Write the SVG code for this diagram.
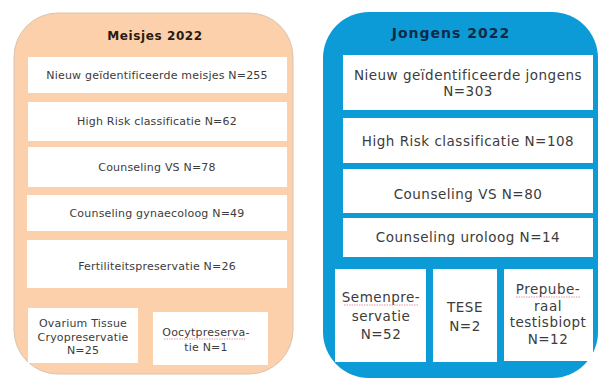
<svg xmlns="http://www.w3.org/2000/svg" width="603" height="381" viewBox="0 0 603 381">
<style>
.bg{fill:#ffffff}
.box{fill:#ffffff}
.tl{font-family:"DejaVu Sans",Verdana,sans-serif;font-size:11px;letter-spacing:0.2px;fill:#3c3c3c;text-anchor:middle}
.tr{font-family:"DejaVu Sans",Verdana,sans-serif;font-size:13.5px;letter-spacing:0.5px;fill:#3c3c3c;text-anchor:middle}
.title{font-family:"DejaVu Sans",Verdana,sans-serif;font-weight:bold;text-anchor:middle}
.spell{fill:none;stroke:#e07a90;stroke-width:0.8;stroke-dasharray:1.5 1}
</style>
<rect class="bg" x="0" y="0" width="603" height="381"/>
<g id="meisjes">
<rect x="14" y="13" width="279" height="361" rx="44" ry="44" fill="#fbd0aa" stroke="#d9c4b0" stroke-width="1"/>
<text class="title" x="155" y="40" font-size="12" letter-spacing="0.6" fill="#2a1a10">Meisjes 2022</text>
</g>
<g id="m1"><rect class="box" x="28" y="57" width="259" height="36"/><text class="tl" x="157" y="79">Nieuw geïdentificeerde meisjes N=255</text></g>
<g id="m2"><rect class="box" x="28" y="102" width="259" height="39"/><text class="tl" x="157" y="125">High Risk classificatie N=62</text></g>
<g id="m3"><rect class="box" x="28" y="147" width="259" height="40"/><text class="tl" x="157" y="171">Counseling VS N=78</text></g>
<g id="m4"><rect class="box" x="27" y="195" width="260" height="36"/><text class="tl" x="157" y="217">Counseling gynaecoloog N=49</text></g>
<g id="m5"><rect class="box" x="27" y="240" width="260" height="48"/><text class="tl" x="157" y="270">Fertiliteitspreservatie N=26</text></g>
<g id="m6"><rect class="box" x="28" y="308" width="110" height="55"/>
<text class="tl" x="83" y="327">Ovarium Tissue</text>
<text class="tl" x="83" y="341">Cryopreservatie</text>
<text class="tl" x="83" y="354">N=25</text></g>
<g id="m7"><rect class="box" x="153" y="312" width="115" height="53"/>
<text class="tl" x="206" y="336">Oocytpreserva-</text>
<path class="spell" d="M164 339 L246 339"/>
<text class="tl" x="206" y="351">tie N=1</text></g>
<g id="jongens">
<rect x="323" y="12" width="275" height="366" rx="46" ry="46" fill="#0d9bd7"/>
<text class="title" x="451" y="38" font-size="14" letter-spacing="1" fill="#0e2a48">Jongens 2022</text>
</g>
<g id="j1"><rect class="box" x="343" y="55" width="250" height="55"/>
<text class="tr" x="468" y="80">Nieuw geïdentificeerde jongens</text>
<text class="tr" x="468" y="96">N=303</text></g>
<g id="j2"><rect class="box" x="343" y="118" width="250" height="45"/><text class="tr" x="468" y="146">High Risk classificatie N=108</text></g>
<g id="j3"><rect class="box" x="343" y="169" width="250" height="44"/><text class="tr" x="468" y="199">Counseling VS N=80</text></g>
<g id="j4"><rect class="box" x="343" y="218" width="250" height="39"/><text class="tr" x="468" y="242">Counseling uroloog N=14</text></g>
<g id="j5"><rect class="box" x="335" y="269" width="91" height="93"/>
<text class="tr" x="381" y="302">Semenpre-</text>
<path class="spell" d="M344 305 L418 305"/>
<text class="tr" x="381" y="321">servatie</text>
<text class="tr" x="381" y="339">N=52</text></g>
<g id="j6"><rect class="box" x="433" y="269" width="64" height="93"/>
<text class="tr" x="465" y="312">TESE</text>
<text class="tr" x="465" y="331">N=2</text></g>
<g id="j7"><rect class="box" x="504" y="269" width="89" height="92"/>
<text class="tr" x="548" y="294">Prepube-</text>
<path class="spell" d="M516 297 L580 297"/>
<text class="tr" x="548" y="311">raal</text>
<text class="tr" x="548" y="327">testisbiopt</text>
<text class="tr" x="548" y="344">N=12</text></g>
<g id="connectors"></g>
</svg>
